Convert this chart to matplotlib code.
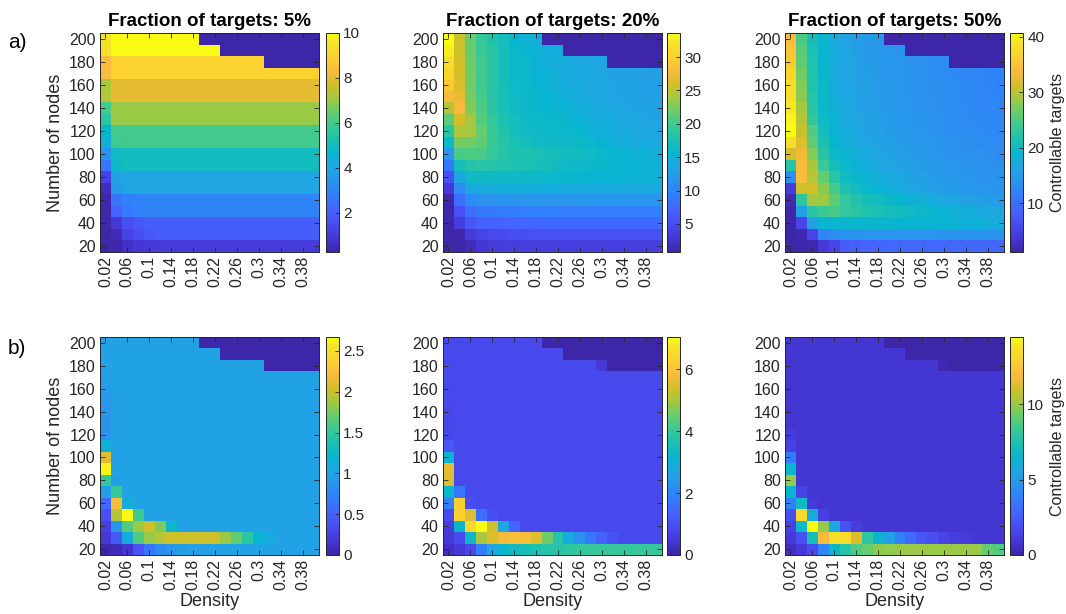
import numpy as np
import matplotlib
matplotlib.use('Agg')
import matplotlib.pyplot as plt
from matplotlib.colors import LinearSegmentedColormap

plt.rcParams['font.family'] = ['Liberation Sans', 'DejaVu Sans']

N = np.nan

density = [0.02, 0.04, 0.06, 0.08, 0.10, 0.12, 0.14, 0.16, 0.18, 0.20,
           0.22, 0.24, 0.26, 0.28, 0.30, 0.32, 0.34, 0.36, 0.38, 0.40]
nodes = [20, 30, 40, 50, 60, 70, 80, 90, 100, 110,
         120, 130, 140, 150, 160, 170, 180, 190, 200]
fractions = ['5%', '20%', '50%']

# grids: rows from 200 nodes (top) down to 20 nodes, NaN = no network
mean_5 = [
    [9.5, 10, 10, 10, 10, 10, 10, 10, 10, N, N, N, N, N, N, N, N, N, N, N],
    [9.4, 10, 10, 10, 10, 10, 10, 10, 10, 10, 10, N, N, N, N, N, N, N, N, N],
    [8.3, 9, 9, 9, 9, 9, 9, 9, 9, 9, 9, 9, 9, 9, 9, N, N, N, N, N],
    [8.3, 9, 9, 9, 9, 9, 9, 9, 9, 9, 9, 9, 9, 9, 9, 9, 9, 9, 9, 9],
    [7.2, 8, 8, 8, 8, 8, 8, 8, 8, 8, 8, 8, 8, 8, 8, 8, 8, 8, 8, 8],
    [7.3, 8, 8, 8, 8, 8, 8, 8, 8, 8, 8, 8, 8, 8, 8, 8, 8, 8, 8, 8],
    [6.0, 7, 7, 7, 7, 7, 7, 7, 7, 7, 7, 7, 7, 7, 7, 7, 7, 7, 7, 7],
    [5.6, 7, 7, 7, 7, 7, 7, 7, 7, 7, 7, 7, 7, 7, 7, 7, 7, 7, 7, 7],
    [4.6, 6, 6, 6, 6, 6, 6, 6, 6, 6, 6, 6, 6, 6, 6, 6, 6, 6, 6, 6],
    [4.3, 5.9, 6, 6, 6, 6, 6, 6, 6, 6, 6, 6, 6, 6, 6, 6, 6, 6, 6, 6],
    [3.4, 4.9, 5, 5, 5, 5, 5, 5, 5, 5, 5, 5, 5, 5, 5, 5, 5, 5, 5, 5],
    [2.6, 4.8, 5, 5, 5, 5, 5, 5, 5, 5, 5, 5, 5, 5, 5, 5, 5, 5, 5, 5],
    [1.2, 3.9, 4, 4, 4, 4, 4, 4, 4, 4, 4, 4, 4, 4, 4, 4, 4, 4, 4, 4],
    [0.55, 3.7, 3.95, 4, 4, 4, 4, 4, 4, 4, 4, 4, 4, 4, 4, 4, 4, 4, 4, 4],
    [0.3, 2.5, 2.9, 3, 3, 3, 3, 3, 3, 3, 3, 3, 3, 3, 3, 3, 3, 3, 3, 3],
    [0.3, 2.1, 2.7, 2.9, 3, 3, 3, 3, 3, 3, 3, 3, 3, 3, 3, 3, 3, 3, 3, 3],
    [0.3, 0.9, 1.55, 1.8, 1.95, 2, 2, 2, 2, 2, 2, 2, 2, 2, 2, 2, 2, 2, 2, 2],
    [0.28, 0.5, 1.25, 1.55, 1.8, 1.95, 2, 2, 2, 2, 2, 2, 2, 2, 2, 2, 2, 2, 2, 2],
    [0.25, 0.3, 0.7, 0.88, 0.95, 0.98, 1, 1, 1, 1, 1, 1, 1, 1, 1, 1, 1, 1, 1, 1],
]

mean_20 = [
    [33.5, 25.5, 21.6, 19.3, 18.1, 17.0, 15.6, 15.0, 14.6, N, N, N, N, N, N, N, N, N, N, N],
    [32.7, 25.5, 21.7, 19.6, 18.5, 17.2, 15.8, 15.4, 14.7, 14.3, 14.0, N, N, N, N, N, N, N, N, N],
    [31.5, 25.8, 21.9, 20.0, 18.5, 17.2, 16.0, 15.8, 15.0, 14.5, 14.2, 14.0, 13.8, 13.5, 13.3, N, N, N, N, N],
    [30.6, 26.0, 22.0, 20.0, 18.5, 17.2, 16.0, 15.8, 15.3, 14.8, 14.4, 14.1, 13.9, 13.6, 13.4, 13.2, 13.0, 12.9, 12.8, 12.7],
    [29.3, 26.2, 22.0, 20.0, 18.5, 17.3, 16.2, 15.9, 15.5, 15.0, 14.6, 14.2, 14.0, 13.7, 13.5, 13.3, 13.1, 13.0, 12.9, 12.7],
    [27.5, 27.0, 22.2, 20.2, 18.6, 17.4, 16.3, 16.0, 15.7, 15.3, 14.8, 14.4, 14.1, 13.8, 13.6, 13.4, 13.2, 13.0, 12.9, 12.7],
    [24.7, 27.8, 22.6, 20.6, 18.8, 17.5, 16.5, 16.0, 15.7, 15.5, 15.2, 14.8, 14.4, 14.1, 13.8, 13.5, 13.3, 13.1, 13.0, 12.9],
    [21.4, 26.0, 23.9, 20.9, 19.3, 17.8, 17.0, 16.3, 16.0, 15.9, 15.8, 15.6, 15.0, 14.6, 14.3, 14.0, 13.7, 13.5, 13.3, 13.1],
    [18.8, 24.3, 24.0, 21.6, 19.6, 18.1, 17.2, 16.5, 16.2, 16.0, 15.9, 15.8, 15.6, 15.0, 14.6, 14.3, 14.0, 13.7, 13.5, 13.3],
    [15.8, 22.2, 22.0, 21.4, 19.6, 18.5, 17.5, 17.0, 16.5, 16.3, 16.2, 16.1, 16.0, 15.8, 15.2, 14.8, 14.5, 14.2, 14.0, 13.8],
    [11.6, 20.3, 20.6, 20.3, 19.3, 18.5, 17.8, 17.8, 17.6, 17.0, 16.9, 16.8, 16.6, 16.4, 16.0, 15.6, 15.3, 15.0, 14.8, 14.5],
    [8.8, 17.0, 18.1, 18.5, 18.3, 18.0, 17.8, 17.6, 17.4, 17.2, 16.5, 16.3, 16.1, 15.9, 15.7, 15.5, 15.3, 15.1, 15.0, 14.8],
    [5.4, 13.6, 16.3, 16.4, 16.4, 16.3, 16.2, 16.1, 16.0, 15.9, 15.8, 15.7, 15.6, 15.5, 15.4, 15.3, 15.2, 15.1, 15.0, 14.8],
    [3.1, 10.6, 13.6, 14.2, 14.3, 14.4, 14.4, 14.4, 14.3, 14.3, 14.2, 14.2, 14.1, 14.1, 14.0, 14.0, 13.9, 13.9, 13.8, 13.8],
    [1.0, 8.0, 10.6, 11.2, 11.6, 11.7, 11.8, 11.8, 11.9, 11.9, 11.9, 11.9, 11.9, 11.9, 11.8, 11.8, 11.8, 11.8, 11.7, 11.7],
    [1.0, 5.4, 8.2, 8.8, 9.0, 9.2, 9.3, 9.4, 9.4, 9.5, 9.5, 9.5, 9.5, 9.5, 9.5, 9.5, 9.5, 9.5, 9.5, 9.5],
    [1.0, 3.4, 5.9, 6.7, 7.0, 7.2, 7.3, 7.4, 7.4, 7.5, 7.5, 7.5, 7.5, 7.5, 7.5, 7.5, 7.5, 7.5, 7.5, 7.5],
    [0.9, 1.0, 3.4, 4.2, 4.7, 5.0, 5.1, 5.2, 5.3, 5.3, 5.3, 5.3, 5.3, 5.3, 5.3, 5.3, 5.3, 5.3, 5.3, 5.3],
    [0.8, 0.9, 1.8, 2.8, 3.3, 3.5, 3.6, 3.6, 3.7, 3.7, 3.7, 3.7, 3.7, 3.7, 3.7, 3.7, 3.7, 3.7, 3.7, 3.7],
]

mean_50 = [
    [34.0, 24.9, 21.0, 19.0, 17.0, 15.8, 15.2, 14.8, 14.5, N, N, N, N, N, N, N, N, N, N, N],
    [34.8, 25.6, 21.3, 19.2, 17.3, 16.2, 15.5, 15.0, 14.6, 14.3, 14.0, N, N, N, N, N, N, N, N, N],
    [35.5, 26.0, 21.8, 19.2, 17.3, 16.2, 15.6, 15.2, 14.8, 14.5, 14.2, 13.9, 13.6, 13.4, 13.2, N, N, N, N, N],
    [37.0, 26.8, 21.8, 19.2, 17.3, 16.2, 15.7, 15.3, 14.9, 14.6, 14.3, 14.0, 13.7, 13.4, 13.2, 12.9, 12.7, 12.5, 12.3, 12.2],
    [38.0, 27.5, 21.8, 19.5, 17.3, 16.2, 15.8, 15.4, 15.0, 14.7, 14.4, 14.1, 13.8, 13.5, 13.3, 13.0, 12.8, 12.6, 12.4, 12.3],
    [38.3, 28.0, 22.2, 19.5, 17.3, 16.8, 16.0, 15.5, 15.1, 14.8, 14.5, 14.2, 13.9, 13.6, 13.4, 13.1, 12.9, 12.7, 12.5, 12.4],
    [39.2, 29.0, 22.5, 19.5, 17.8, 16.8, 16.1, 15.6, 15.2, 14.9, 14.6, 14.3, 14.0, 13.7, 13.5, 13.2, 13.0, 12.8, 12.6, 12.5],
    [40.0, 30.0, 23.2, 20.0, 18.5, 16.8, 16.3, 15.8, 15.4, 15.0, 14.7, 14.4, 14.1, 13.8, 13.6, 13.3, 13.1, 12.9, 12.7, 12.6],
    [40.7, 30.8, 25.2, 20.5, 18.5, 17.4, 16.6, 16.0, 15.6, 15.2, 14.9, 14.6, 14.3, 14.0, 13.8, 13.5, 13.3, 13.1, 12.9, 12.8],
    [38.0, 32.0, 26.0, 21.5, 18.8, 17.8, 17.0, 16.4, 15.9, 15.5, 15.1, 14.8, 14.5, 14.2, 14.0, 13.7, 13.5, 13.3, 13.1, 13.0],
    [31.5, 33.2, 27.5, 22.8, 19.5, 18.5, 17.6, 16.9, 16.3, 15.9, 15.5, 15.1, 14.8, 14.5, 14.2, 14.0, 13.8, 13.6, 13.4, 13.2],
    [22.5, 34.0, 29.3, 24.0, 21.0, 19.3, 18.3, 17.5, 16.9, 16.4, 15.9, 15.5, 15.2, 14.9, 14.6, 14.3, 14.1, 13.9, 13.7, 13.5],
    [13.5, 34.0, 30.0, 26.2, 22.5, 20.3, 19.2, 18.3, 17.6, 17.0, 16.5, 16.0, 15.6, 15.2, 14.9, 14.6, 14.4, 14.2, 14.0, 13.8],
    [4.4, 31.0, 31.5, 28.0, 24.5, 21.7, 20.3, 19.3, 18.5, 17.8, 17.2, 16.6, 16.1, 15.7, 15.3, 15.0, 14.7, 14.5, 14.3, 14.1],
    [2.0, 23.0, 29.0, 28.7, 26.0, 23.3, 22.0, 21.0, 20.2, 19.5, 18.8, 18.2, 17.6, 17.1, 16.6, 16.2, 15.8, 15.5, 15.2, 15.0],
    [1.4, 15.8, 22.5, 24.0, 24.8, 23.3, 22.6, 22.0, 21.5, 21.0, 20.5, 20.0, 19.5, 19.0, 18.5, 18.0, 17.6, 17.2, 16.9, 16.6],
    [1.3, 5.5, 15.8, 19.0, 19.0, 19.0, 19.0, 19.0, 19.0, 19.0, 18.9, 18.8, 18.7, 18.6, 18.5, 18.3, 18.1, 17.9, 17.7, 17.5],
    [1.3, 1.8, 5.5, 12.3, 13.5, 14.0, 14.1, 14.2, 14.2, 14.2, 14.2, 14.2, 14.2, 14.2, 14.1, 14.1, 14.0, 14.0, 14.0, 13.9],
    [1.2, 1.3, 1.6, 4.0, 5.5, 8.0, 8.5, 8.8, 9.0, 9.1, 9.2, 9.2, 9.2, 9.2, 9.2, 9.2, 9.2, 9.2, 9.2, 9.2],
]

std_5 = [
    [1.0, 1.0, 1.0, 1.0, 1.0, 1.0, 1.0, 1.0, 1.0, N, N, N, N, N, N, N, N, N, N, N],
    [0.98, 1.0, 1.0, 1.0, 1.0, 1.0, 1.0, 1.0, 1.0, 1.0, 1.0, N, N, N, N, N, N, N, N, N],
    [0.97, 1.0, 1.0, 1.0, 1.0, 1.0, 1.0, 1.0, 1.0, 1.0, 1.0, 1.0, 1.0, 1.0, 1.0, N, N, N, N, N],
    [0.95, 1.0, 1.0, 1.0, 1.0, 1.0, 1.0, 1.0, 1.0, 1.0, 1.0, 1.0, 1.0, 1.0, 1.0, 1.0, 1.0, 1.0, 1.0, 1.0],
    [0.93, 1.0, 1.0, 1.0, 1.0, 1.0, 1.0, 1.0, 1.0, 1.0, 1.0, 1.0, 1.0, 1.0, 1.0, 1.0, 1.0, 1.0, 1.0, 1.0],
    [0.9, 1.0, 1.0, 1.0, 1.0, 1.0, 1.0, 1.0, 1.0, 1.0, 1.0, 1.0, 1.0, 1.0, 1.0, 1.0, 1.0, 1.0, 1.0, 1.0],
    [0.88, 1.0, 1.0, 1.0, 1.0, 1.0, 1.0, 1.0, 1.0, 1.0, 1.0, 1.0, 1.0, 1.0, 1.0, 1.0, 1.0, 1.0, 1.0, 1.0],
    [0.87, 1.0, 1.0, 1.0, 1.0, 1.0, 1.0, 1.0, 1.0, 1.0, 1.0, 1.0, 1.0, 1.0, 1.0, 1.0, 1.0, 1.0, 1.0, 1.0],
    [0.86, 1.0, 1.0, 1.0, 1.0, 1.0, 1.0, 1.0, 1.0, 1.0, 1.0, 1.0, 1.0, 1.0, 1.0, 1.0, 1.0, 1.0, 1.0, 1.0],
    [1.13, 1.0, 1.0, 1.0, 1.0, 1.0, 1.0, 1.0, 1.0, 1.0, 1.0, 1.0, 1.0, 1.0, 1.0, 1.0, 1.0, 1.0, 1.0, 1.0],
    [2.1, 0.97, 1.0, 1.0, 1.0, 1.0, 1.0, 1.0, 1.0, 1.0, 1.0, 1.0, 1.0, 1.0, 1.0, 1.0, 1.0, 1.0, 1.0, 1.0],
    [2.62, 0.97, 1.0, 1.0, 1.0, 1.0, 1.0, 1.0, 1.0, 1.0, 1.0, 1.0, 1.0, 1.0, 1.0, 1.0, 1.0, 1.0, 1.0, 1.0],
    [1.5, 0.95, 1.0, 1.0, 1.0, 1.0, 1.0, 1.0, 1.0, 1.0, 1.0, 1.0, 1.0, 1.0, 1.0, 1.0, 1.0, 1.0, 1.0, 1.0],
    [0.95, 1.52, 1.0, 1.0, 1.0, 1.0, 1.0, 1.0, 1.0, 1.0, 1.0, 1.0, 1.0, 1.0, 1.0, 1.0, 1.0, 1.0, 1.0, 1.0],
    [0.55, 2.22, 1.1, 1.0, 1.0, 1.0, 1.0, 1.0, 1.0, 1.0, 1.0, 1.0, 1.0, 1.0, 1.0, 1.0, 1.0, 1.0, 1.0, 1.0],
    [0.35, 1.93, 2.67, 1.55, 1.0, 1.0, 1.0, 1.0, 1.0, 1.0, 1.0, 1.0, 1.0, 1.0, 1.0, 1.0, 1.0, 1.0, 1.0, 1.0],
    [0.24, 0.88, 1.62, 1.85, 2.02, 1.77, 1.23, 1.0, 1.0, 1.0, 1.0, 1.0, 1.0, 1.0, 1.0, 1.0, 1.0, 1.0, 1.0, 1.0],
    [0.18, 0.43, 1.1, 1.62, 1.85, 1.93, 2.02, 2.02, 2.02, 2.02, 2.02, 1.85, 1.68, 1.47, 1.18, 1.08, 1.0, 1.0, 1.0, 1.0],
    [0.03, 0.06, 0.15, 0.4, 0.65, 0.82, 0.9, 0.95, 0.97, 1.0, 1.0, 1.0, 1.0, 1.0, 1.0, 1.0, 1.0, 1.0, 1.0, 1.0],
]

std_20 = [
    [0.85, 0.85, 0.85, 0.85, 0.85, 0.85, 0.85, 0.85, 0.85, N, N, N, N, N, N, N, N, N, N, N],
    [0.85, 0.85, 0.85, 0.85, 0.85, 0.85, 0.85, 0.85, 0.85, 0.85, 0.85, N, N, N, N, N, N, N, N, N],
    [0.85, 0.85, 0.85, 0.85, 0.85, 0.85, 0.85, 0.85, 0.85, 0.85, 0.85, 0.85, 0.85, 0.85, 0.5, N, N, N, N, N],
    [0.85, 0.85, 0.85, 0.85, 0.85, 0.85, 0.85, 0.85, 0.85, 0.85, 0.85, 0.85, 0.85, 0.85, 0.85, 0.85, 0.85, 0.85, 0.85, 0.85],
    [0.85, 0.85, 0.85, 0.85, 0.85, 0.85, 0.85, 0.85, 0.85, 0.85, 0.85, 0.85, 0.85, 0.85, 0.85, 0.85, 0.85, 0.85, 0.85, 0.85],
    [0.85, 0.85, 0.85, 0.85, 0.85, 0.85, 0.85, 0.85, 0.85, 0.85, 0.85, 0.85, 0.85, 0.85, 0.85, 0.85, 0.85, 0.85, 0.85, 0.85],
    [0.78, 0.85, 0.85, 0.85, 0.85, 0.85, 0.85, 0.85, 0.85, 0.85, 0.85, 0.85, 0.85, 0.85, 0.85, 0.85, 0.85, 0.85, 0.85, 0.85],
    [0.78, 0.85, 0.85, 0.85, 0.85, 0.85, 0.85, 0.85, 0.85, 0.85, 0.85, 0.85, 0.85, 0.85, 0.85, 0.85, 0.85, 0.85, 0.85, 0.85],
    [0.78, 0.85, 0.85, 0.85, 0.85, 0.85, 0.85, 0.85, 0.85, 0.85, 0.85, 0.85, 0.85, 0.85, 0.85, 0.85, 0.85, 0.85, 0.85, 0.85],
    [1.1, 0.85, 0.85, 0.85, 0.85, 0.85, 0.85, 0.85, 0.85, 0.85, 0.85, 0.85, 0.85, 0.85, 0.85, 0.85, 0.85, 0.85, 0.85, 0.85],
    [3.1, 0.85, 0.85, 0.85, 0.85, 0.85, 0.85, 0.85, 0.85, 0.85, 0.85, 0.85, 0.85, 0.85, 0.85, 0.85, 0.85, 0.85, 0.85, 0.85],
    [5.6, 0.85, 0.85, 0.85, 0.85, 0.85, 0.85, 0.85, 0.85, 0.85, 0.85, 0.85, 0.85, 0.85, 0.85, 0.85, 0.85, 0.85, 0.85, 0.85],
    [5.5, 0.85, 0.85, 0.85, 0.85, 0.85, 0.85, 0.85, 0.85, 0.85, 0.85, 0.85, 0.85, 0.85, 0.85, 0.85, 0.85, 0.85, 0.85, 0.85],
    [3.2, 1.7, 0.85, 0.85, 0.85, 0.85, 0.85, 0.85, 0.85, 0.85, 0.85, 0.85, 0.85, 0.85, 0.85, 0.85, 0.85, 0.85, 0.85, 0.85],
    [1.9, 6.3, 0.95, 0.85, 0.85, 0.85, 0.85, 0.85, 0.85, 0.85, 0.85, 0.85, 0.85, 0.85, 0.85, 0.85, 0.85, 0.85, 0.85, 0.85],
    [0.9, 6.3, 5.5, 1.55, 0.95, 0.85, 0.85, 0.85, 0.85, 0.85, 0.85, 0.85, 0.85, 0.85, 0.85, 0.85, 0.85, 0.85, 0.85, 0.85],
    [0.6, 3.2, 6.4, 7.05, 5.3, 2.7, 1.4, 0.85, 0.85, 0.85, 0.85, 0.85, 0.85, 0.85, 0.85, 0.85, 0.85, 0.85, 0.85, 0.85],
    [0.5, 0.9, 3.25, 5.0, 5.5, 5.8, 5.9, 5.9, 5.5, 4.55, 3.75, 2.85, 2.25, 1.75, 1.3, 1.0, 0.85, 0.85, 0.85, 0.85],
    [0.3, 0.5, 0.85, 1.9, 2.7, 3.2, 3.4, 3.5, 3.65, 3.75, 3.8, 3.9, 3.95, 4.0, 4.0, 4.0, 4.0, 4.0, 4.0, 4.0],
]

std_50 = [
    [0.87, 0.87, 0.87, 0.87, 0.87, 0.87, 0.87, 0.87, 0.87, N, N, N, N, N, N, N, N, N, N, N],
    [0.87, 0.87, 0.87, 0.87, 0.87, 0.87, 0.87, 0.87, 0.87, 0.87, 0.87, N, N, N, N, N, N, N, N, N],
    [0.87, 0.87, 0.87, 0.87, 0.87, 0.87, 0.87, 0.87, 0.87, 0.87, 0.87, 0.87, 0.87, 0.87, 0.2, N, N, N, N, N],
    [0.87, 0.87, 0.87, 0.87, 0.87, 0.87, 0.87, 0.87, 0.87, 0.87, 0.87, 0.87, 0.87, 0.87, 0.87, 0.87, 0.87, 0.87, 0.87, 0.87],
    [0.87, 0.87, 0.87, 0.87, 0.87, 0.87, 0.87, 0.87, 0.87, 0.87, 0.87, 0.87, 0.87, 0.87, 0.87, 0.87, 0.87, 0.87, 0.87, 0.87],
    [0.87, 0.87, 0.87, 0.87, 0.87, 0.87, 0.87, 0.87, 0.87, 0.87, 0.87, 0.87, 0.87, 0.87, 0.87, 0.87, 0.87, 0.87, 0.87, 0.87],
    [0.87, 0.87, 0.87, 0.87, 0.87, 0.87, 0.87, 0.87, 0.87, 0.87, 0.87, 0.87, 0.87, 0.87, 0.87, 0.87, 0.87, 0.87, 0.87, 0.87],
    [0.87, 0.87, 0.87, 0.87, 0.87, 0.87, 0.87, 0.87, 0.87, 0.87, 0.87, 0.87, 0.87, 0.87, 0.87, 0.87, 0.87, 0.87, 0.87, 0.87],
    [1.1, 0.87, 0.87, 0.87, 0.87, 0.87, 0.87, 0.87, 0.87, 0.87, 0.87, 0.87, 0.87, 0.87, 0.87, 0.87, 0.87, 0.87, 0.87, 0.87],
    [1.4, 0.87, 0.87, 0.87, 0.87, 0.87, 0.87, 0.87, 0.87, 0.87, 0.87, 0.87, 0.87, 0.87, 0.87, 0.87, 0.87, 0.87, 0.87, 0.87],
    [3.7, 0.87, 0.87, 0.87, 0.87, 0.87, 0.87, 0.87, 0.87, 0.87, 0.87, 0.87, 0.87, 0.87, 0.87, 0.87, 0.87, 0.87, 0.87, 0.87],
    [6.6, 0.87, 0.87, 0.87, 0.87, 0.87, 0.87, 0.87, 0.87, 0.87, 0.87, 0.87, 0.87, 0.87, 0.87, 0.87, 0.87, 0.87, 0.87, 0.87],
    [9.9, 0.87, 0.87, 0.87, 0.87, 0.87, 0.87, 0.87, 0.87, 0.87, 0.87, 0.87, 0.87, 0.87, 0.87, 0.87, 0.87, 0.87, 0.87, 0.87],
    [6.4, 1.45, 0.87, 0.87, 0.87, 0.87, 0.87, 0.87, 0.87, 0.87, 0.87, 0.87, 0.87, 0.87, 0.87, 0.87, 0.87, 0.87, 0.87, 0.87],
    [3.9, 6.9, 1.1, 0.87, 0.87, 0.87, 0.87, 0.87, 0.87, 0.87, 0.87, 0.87, 0.87, 0.87, 0.87, 0.87, 0.87, 0.87, 0.87, 0.87],
    [2.0, 13.3, 5.8, 1.3, 0.87, 0.87, 0.87, 0.87, 0.87, 0.87, 0.87, 0.87, 0.87, 0.87, 0.87, 0.87, 0.87, 0.87, 0.87, 0.87],
    [1.4, 6.8, 14.45, 9.9, 5.8, 2.0, 1.2, 0.87, 0.87, 0.87, 0.87, 0.87, 0.87, 0.87, 0.87, 0.87, 0.87, 0.87, 0.87, 0.87],
    [1.0, 2.0, 7.2, 12.0, 13.4, 13.4, 11.2, 8.0, 6.6, 5.2, 3.9, 3.0, 2.3, 1.9, 1.5, 1.2, 1.1, 0.95, 0.9, 0.9],
    [0.55, 1.0, 1.8, 4.0, 6.6, 7.7, 8.7, 9.2, 9.8, 9.9, 10.0, 10.0, 10.0, 10.0, 10.0, 10.0, 10.0, 10.0, 9.2, 8.7],
]

mean_grids = [mean_5, mean_20, mean_50]
std_grids = [std_5, std_20, std_50]
mean_clims = [(0.25, 10.0), (0.8, 33.6), (1.2, 40.7)]
std_clims = [(0.0, 2.67), (0.0, 7.05), (0.0, 14.45)]
mean_cticks = [[2, 4, 6, 8, 10], [5, 10, 15, 20, 25, 30], [10, 20, 30, 40]]
std_cticks = [[0, 0.5, 1, 1.5, 2, 2.5], [0, 2, 4, 6], [0, 5, 10]]

# MATLAB parula
parula_pts = [
    (0.2422, 0.1504, 0.6603), (0.2706, 0.2147, 0.8364), (0.2813, 0.3006, 0.9414),
    (0.2699, 0.3892, 0.9906), (0.1963, 0.4847, 0.9892), (0.1687, 0.5703, 0.9359),
    (0.1248, 0.6459, 0.8883), (0.0297, 0.7082, 0.8163), (0.0964, 0.7500, 0.7120),
    (0.2161, 0.7843, 0.5923), (0.3909, 0.8029, 0.4354), (0.6174, 0.7876, 0.2612),
    (0.8203, 0.7498, 0.1535), (0.9728, 0.7298, 0.2394), (0.9892, 0.8136, 0.1885),
    (0.9610, 0.8890, 0.1537), (0.9769, 0.9839, 0.0805),
]
pos = [i / 63 for i in range(0, 61, 4)] + [1.0]
parula = LinearSegmentedColormap.from_list('parula', list(zip(pos, parula_pts)), N=256)
parula.set_bad(parula(0.0))

dark = (0.15, 0.15, 0.15)
W, H = 1066, 614
fig = plt.figure(figsize=(W / 100, H / 100), dpi=100)

ax_left = [100, 443, 785]
cb_left = [326, 667, 1010]
rows_px = [(33, 252), (337, 555)]


def panel(ax, cax, grid, clim, cticks):
    z = np.ma.masked_invalid(np.flipud(np.array(grid, dtype=float)))
    im = ax.pcolormesh(density, nodes, z, shading='nearest', cmap=parula,
                       vmin=clim[0], vmax=clim[1], rasterized=True)
    ax.set_xticks(density[::2])
    ax.set_xticklabels([f'{d:g}' for d in density[::2]], rotation=90)
    ax.set_yticks(nodes[::2])
    ax.tick_params(direction='in', top=True, right=True, length=3.5, width=0.6,
                   color=dark, labelcolor=dark, labelsize=11.5, pad=3)
    for s in ax.spines.values():
        s.set_color(dark)
        s.set_linewidth(0.7)
    cb = fig.colorbar(im, cax=cax, ticks=cticks)
    cb.outline.set_edgecolor(dark)
    cb.outline.set_linewidth(0.7)
    cax.tick_params(direction='in', length=3, width=0.6, color=dark,
                    labelcolor=dark, labelsize=11, pad=3)
    cax.set_yticklabels([f'{t:g}' for t in cticks])
    return cb


for r, (grids, clims, cticks) in enumerate([(mean_grids, mean_clims, mean_cticks),
                                             (std_grids, std_clims, std_cticks)]):
    top, bot = rows_px[r]
    for c in range(3):
        ax = fig.add_axes([ax_left[c] / W, 1 - bot / H, 219 / W, (bot - top) / H])
        cax = fig.add_axes([cb_left[c] / W, 1 - bot / H, 13 / W, (bot - top) / H])
        cb = panel(ax, cax, grids[c], clims[c], cticks[c])
        if r == 0:
            ax.set_title(f'Fraction of targets: {fractions[c]}', fontsize=13.5,
                         fontweight='bold', pad=5)
        else:
            ax.set_xlabel('Density', fontsize=13, color=dark, labelpad=2)
        if c == 0:
            ax.set_ylabel('Number of nodes', fontsize=13, color=dark, labelpad=4)
        if c == 2:
            cb.set_label('Controllable targets', fontsize=11.5, color=dark, labelpad=4)

fig.text(8 / W, 1 - 43 / H, 'a)', fontsize=15, va='center', ha='left')
fig.text(8 / W, 1 - 349 / H, 'b)', fontsize=15, va='center', ha='left')

fig.savefig('out.png', dpi=100)
